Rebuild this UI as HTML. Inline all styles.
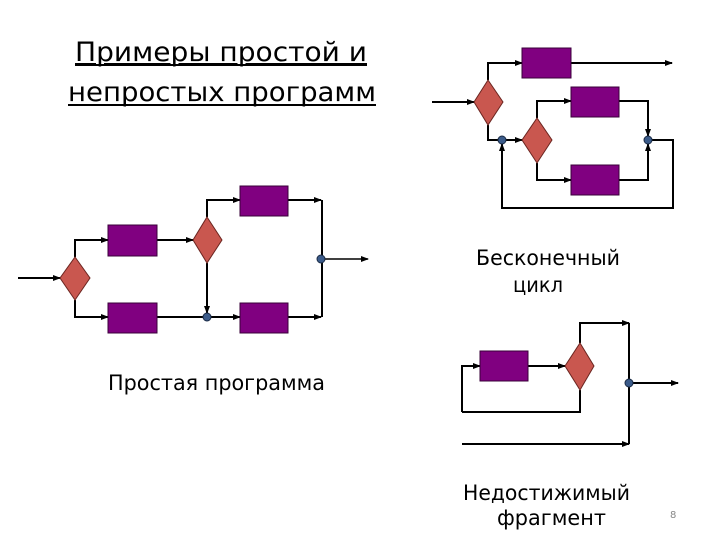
<!DOCTYPE html>
<html><head><meta charset="utf-8"><style>
html,body{margin:0;padding:0;background:#fff;}
svg{display:block;}
text{font-family:"DejaVu Sans","Liberation Sans",sans-serif;fill:#000;}
</style></head><body>
<svg width="720" height="540" viewBox="0 0 720 540" xmlns="http://www.w3.org/2000/svg">
<defs>
<marker id="a" markerWidth="8" markerHeight="8" refX="7" refY="4" orient="auto" markerUnits="userSpaceOnUse">
<path d="M0,1 L8,4 L0,7 Z" fill="#000"/></marker>
</defs>
<g stroke="#000" stroke-width="2" fill="none">
<!-- Left diagram -->
<line x1="18" y1="278" x2="60" y2="278" marker-end="url(#a)"/>
<polyline points="75,257 75,240 108,240" marker-end="url(#a)"/>
<polyline points="75,300 75,317 108,317" marker-end="url(#a)"/>
<line x1="157" y1="240" x2="193" y2="240" marker-end="url(#a)"/>
<polyline points="207,217 207,200 240,200" marker-end="url(#a)"/>
<line x1="207" y1="263" x2="207" y2="313" marker-end="url(#a)"/>
<line x1="157" y1="317" x2="207" y2="317"/>
<line x1="207" y1="317" x2="240" y2="317" marker-end="url(#a)"/>
<line x1="288" y1="200" x2="321" y2="200" marker-end="url(#a)"/>
<line x1="288" y1="317" x2="321" y2="317" marker-end="url(#a)"/>
<line x1="322" y1="200" x2="322" y2="317"/>
<line x1="322" y1="259" x2="368" y2="259" stroke-width="1.5" marker-end="url(#a)"/>
<!-- Right top -->
<line x1="432" y1="102" x2="474" y2="102" marker-end="url(#a)"/>
<polyline points="488,80 488,63 522,63" marker-end="url(#a)"/>
<line x1="571" y1="63" x2="672" y2="63" marker-end="url(#a)"/>
<polyline points="488,125 488,140 522,140" marker-end="url(#a)"/>
<polyline points="537,118 537,101 571,101" marker-end="url(#a)"/>
<polyline points="537,163 537,180 571,180" marker-end="url(#a)"/>
<polyline points="619,101 648,101 648,136" marker-end="url(#a)"/>
<polyline points="619,180 648,180 648,144" marker-end="url(#a)"/>
<polyline points="648,140 673,140 673,208 502,208 502,144" marker-end="url(#a)"/>
<!-- Right bottom -->
<polyline points="462,412 462,366 480,366" marker-end="url(#a)"/>
<line x1="528" y1="366" x2="565" y2="366" marker-end="url(#a)"/>
<polyline points="580,343 580,323 629,323" marker-end="url(#a)"/>
<polyline points="580,390 580,412 462,412"/>
<line x1="629" y1="323" x2="629" y2="444"/>
<line x1="462" y1="444" x2="629" y2="444" marker-end="url(#a)"/>
<line x1="629" y1="383" x2="678" y2="383" marker-end="url(#a)"/>
</g>
<g fill="#800080" stroke="#3a003a" stroke-width="1">
<rect x="108" y="225" width="49" height="31"/>
<rect x="108" y="303" width="49" height="30"/>
<rect x="240" y="186" width="48" height="30"/>
<rect x="240" y="303" width="48" height="30"/>
<rect x="522" y="48" width="49" height="30"/>
<rect x="571" y="87" width="48" height="30"/>
<rect x="571" y="165" width="48" height="30"/>
<rect x="480" y="351" width="48" height="30"/>
</g>
<g fill="#c9574f" stroke="#6b2520" stroke-width="1">
<polygon points="75,257 90,278 75,300 60,278"/>
<polygon points="207,217 222,240 207,263 193,240"/>
<polygon points="488,80 503,102 488,125 474,102"/>
<polygon points="537,118 552,140 537,163 522,140"/>
<polygon points="580,343 594,366 580,390 565,366"/>
</g>
<g fill="#3b5b8a" stroke="#1a2a44" stroke-width="1">
<circle cx="207" cy="317" r="4"/>
<circle cx="321" cy="259" r="4"/>
<circle cx="502" cy="140" r="4"/>
<circle cx="648" cy="140" r="4"/>
<circle cx="629" cy="383" r="4"/>
</g>
<text x="75" y="61" font-size="27" textLength="292" lengthAdjust="spacingAndGlyphs" text-decoration="underline">Примеры простой и</text>
<line x1="75" y1="65" x2="367" y2="65" stroke="#000" stroke-width="2"/>
<text x="68" y="101" font-size="27" textLength="308" lengthAdjust="spacingAndGlyphs">непростых программ</text>
<line x1="68" y1="105" x2="376" y2="105" stroke="#000" stroke-width="2"/>
<text x="476" y="265" font-size="21" textLength="144" lengthAdjust="spacingAndGlyphs">Бесконечный</text>
<text x="513" y="292" font-size="21" textLength="50" lengthAdjust="spacingAndGlyphs">цикл</text>
<text x="108" y="390" font-size="21" textLength="217" lengthAdjust="spacingAndGlyphs">Простая программа</text>
<text x="463" y="500" font-size="21" textLength="167" lengthAdjust="spacingAndGlyphs">Недостижимый</text>
<text x="497" y="525" font-size="21" textLength="109" lengthAdjust="spacingAndGlyphs">фрагмент</text>
<text x="670" y="518" font-size="10" style="fill:#888">8</text>
</svg>
</body></html>
